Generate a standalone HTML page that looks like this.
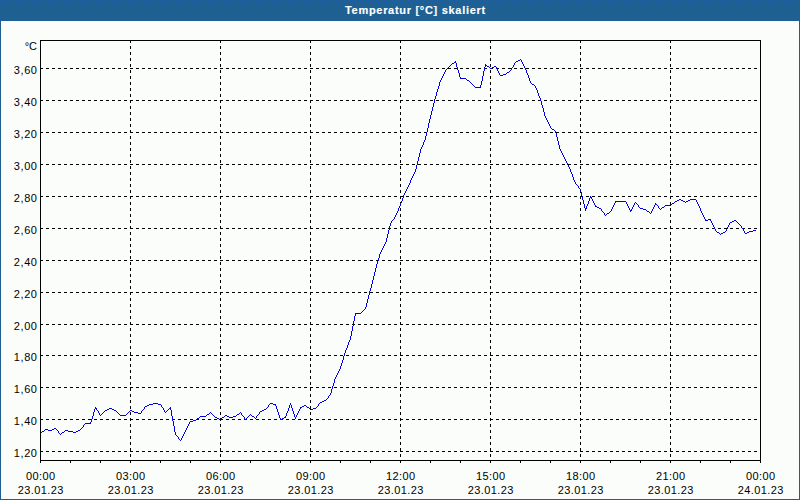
<!DOCTYPE html>
<html><head><meta charset="utf-8"><style>
html,body{margin:0;padding:0;}
body{width:800px;height:500px;position:relative;overflow:hidden;background:#1e6092;font-family:"Liberation Sans",sans-serif;}
#title{position:absolute;z-index:2;left:345px;top:0;height:21px;color:#fff;font-weight:bold;font-size:11px;line-height:21px;letter-spacing:0.7px;white-space:nowrap;-webkit-text-stroke:0.15px #fff;}
#panel{position:absolute;left:1px;top:21px;width:798px;height:478px;background:#fbfdfb;}
svg{position:absolute;left:0;top:0;}
.yl{position:absolute;left:0;width:37.6px;text-align:right;font-size:11px;line-height:14px;color:#000;letter-spacing:0.6px;}
.xl{position:absolute;width:80px;text-align:center;font-size:11px;line-height:14px;color:#000;letter-spacing:0.4px;text-indent:1.6px;}
#unit{position:absolute;left:0;width:37px;top:39px;text-align:right;font-size:11px;line-height:14px;color:#000;}
</style></head><body>
<div id="title">Temperatur [°C] skaliert</div>
<div id="panel"></div>
<svg width="800" height="500" viewBox="0 0 800 500">
<defs><pattern id="dith" x="0" y="0" width="8" height="20" patternUnits="userSpaceOnUse"><path fill="#225eb2" d="M0 0h1v1h-1zM4 1h1v1h-1zM2 2h1v1h-1zM7 2h1v1h-1zM3 4h1v1h-1zM0 5h1v1h-1zM5 5h1v1h-1zM3 7h1v1h-1zM7 8h1v1h-1zM1 9h1v1h-1zM5 9h1v1h-1zM0 11h1v1h-1zM4 11h1v1h-1zM2 13h1v1h-1zM6 13h1v1h-1zM1 15h1v1h-1zM5 15h1v1h-1zM0 17h1v1h-1zM4 17h1v1h-1zM2 19h1v1h-1zM6 19h1v1h-1z"/></pattern></defs>
<rect x="0" y="0" width="800" height="21" fill="url(#dith)" shape-rendering="crispEdges"/>
<g stroke="#000" stroke-width="1" stroke-dasharray="3 3" shape-rendering="crispEdges">
<line x1="40" y1="68.5" x2="760" y2="68.5"/>
<line x1="40" y1="100.5" x2="760" y2="100.5"/>
<line x1="40" y1="132.5" x2="760" y2="132.5"/>
<line x1="40" y1="164.5" x2="760" y2="164.5"/>
<line x1="40" y1="196.5" x2="760" y2="196.5"/>
<line x1="40" y1="228.5" x2="760" y2="228.5"/>
<line x1="40" y1="260.5" x2="760" y2="260.5"/>
<line x1="40" y1="292.5" x2="760" y2="292.5"/>
<line x1="40" y1="324.5" x2="760" y2="324.5"/>
<line x1="40" y1="355.5" x2="760" y2="355.5"/>
<line x1="40" y1="387.5" x2="760" y2="387.5"/>
<line x1="40" y1="419.5" x2="760" y2="419.5"/>
<line x1="40" y1="451.5" x2="760" y2="451.5"/>
<line x1="130.5" y1="40" x2="130.5" y2="460"/>
<line x1="220.5" y1="40" x2="220.5" y2="460"/>
<line x1="310.5" y1="40" x2="310.5" y2="460"/>
<line x1="400.5" y1="40" x2="400.5" y2="460"/>
<line x1="490.5" y1="40" x2="490.5" y2="460"/>
<line x1="580.5" y1="40" x2="580.5" y2="460"/>
<line x1="670.5" y1="40" x2="670.5" y2="460"/>
</g>
<path fill="#0000e8" shape-rendering="crispEdges" d="M520 59h1v1h-1zM518 60h2v1h-2zM521 60h1v1h-1zM455 61h1v1h-1zM516 61h2v1h-2zM521 61h1v1h-1zM454 62h2v1h-2zM515 62h1v1h-1zM522 62h1v1h-1zM452 63h2v1h-2zM456 63h1v1h-1zM514 63h1v1h-1zM522 63h1v1h-1zM451 64h1v1h-1zM456 64h1v1h-1zM485 64h1v1h-1zM514 64h1v1h-1zM523 64h1v1h-1zM450 65h1v1h-1zM456 65h1v1h-1zM485 65h2v1h-2zM513 65h1v1h-1zM523 65h1v1h-1zM449 66h1v1h-1zM456 66h1v1h-1zM485 66h1v1h-1zM487 66h2v1h-2zM494 66h2v1h-2zM513 66h1v1h-1zM524 66h1v1h-1zM448 67h1v1h-1zM457 67h1v1h-1zM484 67h1v1h-1zM489 67h1v1h-1zM492 67h2v1h-2zM496 67h1v1h-1zM512 67h1v1h-1zM524 67h1v1h-1zM447 68h1v1h-1zM457 68h1v1h-1zM484 68h1v1h-1zM490 68h2v1h-2zM496 68h1v1h-1zM511 68h1v1h-1zM525 68h1v1h-1zM446 69h1v1h-1zM457 69h1v1h-1zM484 69h1v1h-1zM497 69h1v1h-1zM511 69h1v1h-1zM525 69h1v1h-1zM445 70h1v1h-1zM458 70h1v1h-1zM484 70h1v1h-1zM497 70h1v1h-1zM510 70h1v1h-1zM526 70h1v1h-1zM445 71h1v1h-1zM458 71h1v1h-1zM483 71h1v1h-1zM498 71h1v1h-1zM509 71h1v1h-1zM526 71h1v1h-1zM444 72h1v1h-1zM458 72h1v1h-1zM483 72h1v1h-1zM498 72h1v1h-1zM507 72h2v1h-2zM526 72h1v1h-1zM444 73h1v1h-1zM459 73h1v1h-1zM483 73h1v1h-1zM499 73h1v1h-1zM506 73h1v1h-1zM527 73h1v1h-1zM443 74h1v1h-1zM459 74h1v1h-1zM483 74h1v1h-1zM499 74h1v1h-1zM503 74h3v1h-3zM527 74h1v1h-1zM443 75h1v1h-1zM459 75h1v1h-1zM483 75h1v1h-1zM500 75h3v1h-3zM528 75h1v1h-1zM442 76h1v1h-1zM459 76h1v1h-1zM482 76h1v1h-1zM528 76h1v1h-1zM442 77h1v1h-1zM460 77h1v1h-1zM482 77h1v1h-1zM528 77h1v1h-1zM441 78h1v1h-1zM460 78h6v1h-6zM482 78h1v1h-1zM529 78h1v1h-1zM441 79h1v1h-1zM466 79h1v1h-1zM482 79h1v1h-1zM529 79h1v1h-1zM440 80h1v1h-1zM467 80h2v1h-2zM482 80h1v1h-1zM529 80h1v1h-1zM440 81h1v1h-1zM469 81h1v1h-1zM481 81h1v1h-1zM530 81h1v1h-1zM439 82h1v1h-1zM470 82h1v1h-1zM481 82h1v1h-1zM530 82h1v1h-1zM439 83h1v1h-1zM471 83h1v1h-1zM481 83h1v1h-1zM531 83h1v1h-1zM439 84h1v1h-1zM472 84h1v1h-1zM481 84h1v1h-1zM532 84h2v1h-2zM439 85h1v1h-1zM473 85h1v1h-1zM480 85h1v1h-1zM534 85h1v1h-1zM438 86h1v1h-1zM474 86h1v1h-1zM480 86h1v1h-1zM535 86h1v1h-1zM438 87h1v1h-1zM475 87h6v1h-6zM535 87h1v1h-1zM438 88h1v1h-1zM536 88h1v1h-1zM437 89h1v1h-1zM536 89h1v1h-1zM437 90h1v1h-1zM537 90h1v1h-1zM437 91h1v1h-1zM537 91h1v1h-1zM436 92h1v1h-1zM537 92h1v1h-1zM436 93h1v1h-1zM538 93h1v1h-1zM436 94h1v1h-1zM538 94h1v1h-1zM436 95h1v1h-1zM538 95h1v1h-1zM435 96h1v1h-1zM539 96h1v1h-1zM435 97h1v1h-1zM539 97h1v1h-1zM435 98h1v1h-1zM540 98h1v1h-1zM434 99h1v1h-1zM540 99h1v1h-1zM434 100h1v1h-1zM540 100h1v1h-1zM434 101h1v1h-1zM541 101h1v1h-1zM434 102h1v1h-1zM541 102h1v1h-1zM433 103h1v1h-1zM541 103h1v1h-1zM433 104h1v1h-1zM541 104h1v1h-1zM433 105h1v1h-1zM542 105h1v1h-1zM433 106h1v1h-1zM542 106h1v1h-1zM432 107h1v1h-1zM542 107h1v1h-1zM432 108h1v1h-1zM543 108h1v1h-1zM432 109h1v1h-1zM543 109h1v1h-1zM432 110h1v1h-1zM543 110h1v1h-1zM431 111h1v1h-1zM543 111h1v1h-1zM431 112h1v1h-1zM544 112h1v1h-1zM431 113h1v1h-1zM544 113h1v1h-1zM431 114h1v1h-1zM544 114h1v1h-1zM430 115h1v1h-1zM544 115h1v1h-1zM430 116h1v1h-1zM545 116h1v1h-1zM430 117h1v1h-1zM545 117h1v1h-1zM430 118h1v1h-1zM546 118h1v1h-1zM429 119h1v1h-1zM546 119h1v1h-1zM429 120h1v1h-1zM547 120h1v1h-1zM429 121h1v1h-1zM547 121h1v1h-1zM429 122h1v1h-1zM548 122h1v1h-1zM428 123h1v1h-1zM548 123h1v1h-1zM428 124h1v1h-1zM549 124h1v1h-1zM428 125h1v1h-1zM549 125h1v1h-1zM428 126h1v1h-1zM550 126h1v1h-1zM428 127h1v1h-1zM550 127h1v1h-1zM427 128h1v1h-1zM551 128h1v1h-1zM427 129h1v1h-1zM552 129h2v1h-2zM427 130h1v1h-1zM554 130h1v1h-1zM427 131h1v1h-1zM555 131h1v1h-1zM426 132h1v1h-1zM555 132h1v1h-1zM426 133h1v1h-1zM556 133h1v1h-1zM426 134h1v1h-1zM556 134h1v1h-1zM426 135h1v1h-1zM556 135h1v1h-1zM425 136h1v1h-1zM556 136h1v1h-1zM425 137h1v1h-1zM557 137h1v1h-1zM425 138h1v1h-1zM557 138h1v1h-1zM425 139h1v1h-1zM557 139h1v1h-1zM424 140h1v1h-1zM557 140h1v1h-1zM424 141h1v1h-1zM558 141h1v1h-1zM423 142h1v1h-1zM558 142h1v1h-1zM423 143h1v1h-1zM558 143h1v1h-1zM423 144h1v1h-1zM558 144h1v1h-1zM422 145h1v1h-1zM559 145h1v1h-1zM422 146h1v1h-1zM559 146h1v1h-1zM421 147h1v1h-1zM559 147h1v1h-1zM421 148h1v1h-1zM559 148h1v1h-1zM420 149h1v1h-1zM560 149h1v1h-1zM420 150h1v1h-1zM560 150h1v1h-1zM420 151h1v1h-1zM561 151h1v1h-1zM420 152h1v1h-1zM561 152h1v1h-1zM419 153h1v1h-1zM562 153h1v1h-1zM419 154h1v1h-1zM562 154h1v1h-1zM419 155h1v1h-1zM563 155h1v1h-1zM419 156h1v1h-1zM563 156h1v1h-1zM418 157h1v1h-1zM564 157h1v1h-1zM418 158h1v1h-1zM564 158h1v1h-1zM418 159h1v1h-1zM565 159h1v1h-1zM418 160h1v1h-1zM565 160h1v1h-1zM417 161h1v1h-1zM566 161h1v1h-1zM417 162h1v1h-1zM566 162h1v1h-1zM417 163h1v1h-1zM567 163h1v1h-1zM417 164h1v1h-1zM567 164h1v1h-1zM416 165h1v1h-1zM568 165h1v1h-1zM416 166h1v1h-1zM568 166h1v1h-1zM416 167h1v1h-1zM569 167h1v1h-1zM416 168h1v1h-1zM569 168h1v1h-1zM415 169h1v1h-1zM570 169h1v1h-1zM415 170h1v1h-1zM570 170h1v1h-1zM415 171h1v1h-1zM570 171h1v1h-1zM414 172h1v1h-1zM571 172h1v1h-1zM414 173h1v1h-1zM571 173h1v1h-1zM413 174h1v1h-1zM572 174h1v1h-1zM413 175h1v1h-1zM572 175h1v1h-1zM412 176h1v1h-1zM572 176h1v1h-1zM412 177h1v1h-1zM573 177h1v1h-1zM411 178h1v1h-1zM573 178h1v1h-1zM411 179h1v1h-1zM573 179h1v1h-1zM410 180h1v1h-1zM574 180h1v1h-1zM410 181h1v1h-1zM574 181h1v1h-1zM410 182h1v1h-1zM575 182h1v1h-1zM409 183h1v1h-1zM575 183h1v1h-1zM409 184h1v1h-1zM576 184h1v1h-1zM408 185h1v1h-1zM577 185h1v1h-1zM408 186h1v1h-1zM578 186h1v1h-1zM407 187h1v1h-1zM578 187h1v1h-1zM407 188h1v1h-1zM579 188h1v1h-1zM406 189h1v1h-1zM580 189h1v1h-1zM406 190h1v1h-1zM580 190h1v1h-1zM405 191h1v1h-1zM580 191h1v1h-1zM405 192h1v1h-1zM581 192h1v1h-1zM404 193h1v1h-1zM581 193h1v1h-1zM404 194h1v1h-1zM581 194h1v1h-1zM403 195h1v1h-1zM581 195h1v1h-1zM403 196h1v1h-1zM582 196h1v1h-1zM590 196h1v1h-1zM403 197h1v1h-1zM582 197h1v1h-1zM590 197h2v1h-2zM402 198h1v1h-1zM582 198h1v1h-1zM589 198h1v1h-1zM591 198h1v1h-1zM402 199h1v1h-1zM582 199h1v1h-1zM589 199h1v1h-1zM592 199h1v1h-1zM679 199h2v1h-2zM690 199h6v1h-6zM402 200h1v1h-1zM583 200h1v1h-1zM589 200h1v1h-1zM592 200h1v1h-1zM677 200h2v1h-2zM681 200h2v1h-2zM688 200h2v1h-2zM696 200h1v1h-1zM401 201h1v1h-1zM583 201h1v1h-1zM588 201h1v1h-1zM593 201h1v1h-1zM615 201h11v1h-11zM675 201h2v1h-2zM683 201h2v1h-2zM686 201h2v1h-2zM696 201h1v1h-1zM401 202h1v1h-1zM583 202h1v1h-1zM588 202h1v1h-1zM593 202h1v1h-1zM615 202h1v1h-1zM626 202h1v1h-1zM635 202h1v1h-1zM674 202h1v1h-1zM685 202h1v1h-1zM697 202h1v1h-1zM400 203h1v1h-1zM583 203h1v1h-1zM588 203h1v1h-1zM594 203h1v1h-1zM614 203h1v1h-1zM626 203h1v1h-1zM634 203h1v1h-1zM636 203h1v1h-1zM655 203h1v1h-1zM672 203h2v1h-2zM697 203h1v1h-1zM400 204h1v1h-1zM584 204h1v1h-1zM587 204h1v1h-1zM594 204h1v1h-1zM614 204h1v1h-1zM627 204h1v1h-1zM634 204h1v1h-1zM637 204h1v1h-1zM655 204h2v1h-2zM671 204h1v1h-1zM698 204h1v1h-1zM400 205h1v1h-1zM584 205h1v1h-1zM587 205h1v1h-1zM595 205h1v1h-1zM613 205h1v1h-1zM627 205h1v1h-1zM633 205h1v1h-1zM638 205h1v1h-1zM654 205h1v1h-1zM657 205h1v1h-1zM665 205h6v1h-6zM698 205h1v1h-1zM399 206h1v1h-1zM584 206h1v1h-1zM586 206h1v1h-1zM595 206h2v1h-2zM613 206h1v1h-1zM628 206h1v1h-1zM633 206h1v1h-1zM638 206h1v1h-1zM654 206h1v1h-1zM658 206h1v1h-1zM664 206h1v1h-1zM699 206h1v1h-1zM399 207h1v1h-1zM584 207h1v1h-1zM586 207h1v1h-1zM597 207h2v1h-2zM612 207h1v1h-1zM628 207h1v1h-1zM632 207h1v1h-1zM639 207h1v1h-1zM653 207h1v1h-1zM658 207h1v1h-1zM662 207h2v1h-2zM699 207h1v1h-1zM398 208h1v1h-1zM585 208h2v1h-2zM599 208h2v1h-2zM612 208h1v1h-1zM629 208h1v1h-1zM632 208h1v1h-1zM640 208h3v1h-3zM653 208h1v1h-1zM659 208h1v1h-1zM661 208h1v1h-1zM700 208h1v1h-1zM398 209h1v1h-1zM585 209h1v1h-1zM601 209h1v1h-1zM611 209h1v1h-1zM629 209h1v1h-1zM631 209h1v1h-1zM643 209h3v1h-3zM652 209h1v1h-1zM660 209h1v1h-1zM700 209h1v1h-1zM398 210h1v1h-1zM585 210h1v1h-1zM601 210h1v1h-1zM611 210h1v1h-1zM630 210h2v1h-2zM646 210h1v1h-1zM652 210h1v1h-1zM700 210h1v1h-1zM397 211h1v1h-1zM602 211h1v1h-1zM610 211h1v1h-1zM630 211h1v1h-1zM647 211h2v1h-2zM651 211h1v1h-1zM701 211h1v1h-1zM397 212h1v1h-1zM603 212h1v1h-1zM609 212h1v1h-1zM649 212h1v1h-1zM651 212h1v1h-1zM701 212h1v1h-1zM396 213h1v1h-1zM604 213h1v1h-1zM607 213h2v1h-2zM650 213h1v1h-1zM702 213h1v1h-1zM396 214h1v1h-1zM604 214h1v1h-1zM606 214h1v1h-1zM702 214h1v1h-1zM395 215h1v1h-1zM605 215h1v1h-1zM703 215h1v1h-1zM395 216h1v1h-1zM703 216h1v1h-1zM394 217h1v1h-1zM704 217h1v1h-1zM394 218h1v1h-1zM704 218h1v1h-1zM393 219h1v1h-1zM705 219h1v1h-1zM708 219h3v1h-3zM392 220h1v1h-1zM705 220h3v1h-3zM710 220h1v1h-1zM734 220h2v1h-2zM391 221h1v1h-1zM711 221h1v1h-1zM732 221h2v1h-2zM736 221h1v1h-1zM391 222h1v1h-1zM711 222h1v1h-1zM730 222h2v1h-2zM737 222h1v1h-1zM390 223h1v1h-1zM712 223h1v1h-1zM729 223h1v1h-1zM738 223h1v1h-1zM390 224h1v1h-1zM712 224h1v1h-1zM729 224h1v1h-1zM739 224h1v1h-1zM390 225h1v1h-1zM713 225h1v1h-1zM728 225h1v1h-1zM740 225h1v1h-1zM389 226h1v1h-1zM713 226h1v1h-1zM728 226h1v1h-1zM741 226h1v1h-1zM389 227h1v1h-1zM714 227h1v1h-1zM727 227h1v1h-1zM741 227h1v1h-1zM389 228h1v1h-1zM714 228h1v1h-1zM727 228h1v1h-1zM742 228h1v1h-1zM389 229h1v1h-1zM715 229h1v1h-1zM726 229h1v1h-1zM743 229h1v1h-1zM388 230h1v1h-1zM715 230h1v1h-1zM726 230h1v1h-1zM743 230h1v1h-1zM753 230h3v1h-3zM388 231h1v1h-1zM716 231h1v1h-1zM725 231h1v1h-1zM744 231h1v1h-1zM749 231h4v1h-4zM388 232h1v1h-1zM717 232h2v1h-2zM723 232h2v1h-2zM744 232h1v1h-1zM747 232h2v1h-2zM388 233h1v1h-1zM719 233h1v1h-1zM721 233h2v1h-2zM745 233h2v1h-2zM387 234h1v1h-1zM720 234h1v1h-1zM387 235h1v1h-1zM387 236h1v1h-1zM387 237h1v1h-1zM386 238h1v1h-1zM386 239h1v1h-1zM386 240h1v1h-1zM386 241h1v1h-1zM385 242h1v1h-1zM385 243h1v1h-1zM384 244h1v1h-1zM384 245h1v1h-1zM383 246h1v1h-1zM383 247h1v1h-1zM382 248h1v1h-1zM382 249h1v1h-1zM381 250h1v1h-1zM381 251h1v1h-1zM380 252h1v1h-1zM380 253h1v1h-1zM379 254h1v1h-1zM379 255h1v1h-1zM379 256h1v1h-1zM379 257h1v1h-1zM378 258h1v1h-1zM378 259h1v1h-1zM378 260h1v1h-1zM377 261h1v1h-1zM377 262h1v1h-1zM377 263h1v1h-1zM376 264h1v1h-1zM376 265h1v1h-1zM376 266h1v1h-1zM376 267h1v1h-1zM375 268h1v1h-1zM375 269h1v1h-1zM375 270h1v1h-1zM375 271h1v1h-1zM374 272h1v1h-1zM374 273h1v1h-1zM374 274h1v1h-1zM374 275h1v1h-1zM373 276h1v1h-1zM373 277h1v1h-1zM373 278h1v1h-1zM373 279h1v1h-1zM372 280h1v1h-1zM372 281h1v1h-1zM372 282h1v1h-1zM372 283h1v1h-1zM371 284h1v1h-1zM371 285h1v1h-1zM371 286h1v1h-1zM371 287h1v1h-1zM370 288h1v1h-1zM370 289h1v1h-1zM370 290h1v1h-1zM369 291h1v1h-1zM369 292h1v1h-1zM369 293h1v1h-1zM369 294h1v1h-1zM368 295h1v1h-1zM368 296h1v1h-1zM368 297h1v1h-1zM368 298h1v1h-1zM367 299h1v1h-1zM367 300h1v1h-1zM367 301h1v1h-1zM367 302h1v1h-1zM366 303h1v1h-1zM366 304h1v1h-1zM366 305h1v1h-1zM366 306h1v1h-1zM365 307h1v1h-1zM365 308h1v1h-1zM364 309h1v1h-1zM363 310h1v1h-1zM362 311h1v1h-1zM361 312h1v1h-1zM355 313h6v1h-6zM355 314h1v1h-1zM355 315h1v1h-1zM354 316h1v1h-1zM354 317h1v1h-1zM354 318h1v1h-1zM354 319h1v1h-1zM354 320h1v1h-1zM353 321h1v1h-1zM353 322h1v1h-1zM353 323h1v1h-1zM353 324h1v1h-1zM353 325h1v1h-1zM352 326h1v1h-1zM352 327h1v1h-1zM352 328h1v1h-1zM352 329h1v1h-1zM352 330h1v1h-1zM351 331h1v1h-1zM351 332h1v1h-1zM351 333h1v1h-1zM351 334h1v1h-1zM351 335h1v1h-1zM350 336h1v1h-1zM350 337h1v1h-1zM350 338h1v1h-1zM350 339h1v1h-1zM349 340h1v1h-1zM349 341h1v1h-1zM348 342h1v1h-1zM348 343h1v1h-1zM348 344h1v1h-1zM347 345h1v1h-1zM347 346h1v1h-1zM347 347h1v1h-1zM346 348h1v1h-1zM346 349h1v1h-1zM345 350h1v1h-1zM345 351h1v1h-1zM345 352h1v1h-1zM344 353h1v1h-1zM344 354h1v1h-1zM344 355h1v1h-1zM343 356h1v1h-1zM343 357h1v1h-1zM343 358h1v1h-1zM343 359h1v1h-1zM342 360h1v1h-1zM342 361h1v1h-1zM342 362h1v1h-1zM341 363h1v1h-1zM341 364h1v1h-1zM341 365h1v1h-1zM340 366h1v1h-1zM340 367h1v1h-1zM340 368h1v1h-1zM339 369h1v1h-1zM339 370h1v1h-1zM338 371h1v1h-1zM338 372h1v1h-1zM337 373h1v1h-1zM337 374h1v1h-1zM336 375h1v1h-1zM336 376h1v1h-1zM335 377h1v1h-1zM335 378h1v1h-1zM334 379h1v1h-1zM334 380h1v1h-1zM334 381h1v1h-1zM334 382h1v1h-1zM333 383h1v1h-1zM333 384h1v1h-1zM333 385h1v1h-1zM332 386h1v1h-1zM332 387h1v1h-1zM332 388h1v1h-1zM331 389h1v1h-1zM331 390h1v1h-1zM331 391h1v1h-1zM331 392h1v1h-1zM330 393h1v1h-1zM330 394h1v1h-1zM329 395h1v1h-1zM328 396h1v1h-1zM328 397h1v1h-1zM327 398h1v1h-1zM326 399h1v1h-1zM324 400h2v1h-2zM322 401h2v1h-2zM320 402h2v1h-2zM153 403h5v1h-5zM270 403h3v1h-3zM290 403h1v1h-1zM319 403h1v1h-1zM149 404h4v1h-4zM158 404h3v1h-3zM269 404h1v1h-1zM273 404h3v1h-3zM290 404h1v1h-1zM318 404h1v1h-1zM147 405h2v1h-2zM161 405h1v1h-1zM268 405h1v1h-1zM275 405h1v1h-1zM289 405h1v1h-1zM291 405h1v1h-1zM304 405h2v1h-2zM318 405h1v1h-1zM145 406h2v1h-2zM161 406h1v1h-1zM268 406h1v1h-1zM276 406h1v1h-1zM289 406h1v1h-1zM291 406h1v1h-1zM302 406h2v1h-2zM306 406h1v1h-1zM317 406h1v1h-1zM95 407h1v1h-1zM144 407h1v1h-1zM162 407h1v1h-1zM170 407h1v1h-1zM267 407h1v1h-1zM276 407h1v1h-1zM289 407h1v1h-1zM291 407h1v1h-1zM300 407h2v1h-2zM307 407h2v1h-2zM316 407h1v1h-1zM95 408h2v1h-2zM109 408h3v1h-3zM144 408h1v1h-1zM163 408h1v1h-1zM169 408h2v1h-2zM266 408h1v1h-1zM276 408h1v1h-1zM288 408h1v1h-1zM292 408h1v1h-1zM300 408h1v1h-1zM309 408h1v1h-1zM313 408h3v1h-3zM94 409h1v1h-1zM96 409h1v1h-1zM107 409h2v1h-2zM112 409h2v1h-2zM143 409h1v1h-1zM163 409h1v1h-1zM168 409h1v1h-1zM170 409h1v1h-1zM264 409h2v1h-2zM277 409h1v1h-1zM288 409h1v1h-1zM292 409h1v1h-1zM299 409h1v1h-1zM310 409h3v1h-3zM94 410h1v1h-1zM97 410h1v1h-1zM105 410h2v1h-2zM114 410h2v1h-2zM130 410h2v1h-2zM142 410h1v1h-1zM164 410h1v1h-1zM167 410h1v1h-1zM171 410h1v1h-1zM262 410h2v1h-2zM277 410h1v1h-1zM288 410h1v1h-1zM292 410h1v1h-1zM299 410h1v1h-1zM94 411h1v1h-1zM98 411h1v1h-1zM104 411h1v1h-1zM116 411h1v1h-1zM129 411h1v1h-1zM132 411h2v1h-2zM141 411h1v1h-1zM164 411h1v1h-1zM166 411h1v1h-1zM171 411h1v1h-1zM260 411h2v1h-2zM277 411h1v1h-1zM287 411h1v1h-1zM293 411h1v1h-1zM298 411h1v1h-1zM93 412h1v1h-1zM98 412h1v1h-1zM103 412h1v1h-1zM117 412h1v1h-1zM128 412h1v1h-1zM134 412h4v1h-4zM141 412h1v1h-1zM165 412h1v1h-1zM171 412h1v1h-1zM210 412h1v1h-1zM240 412h1v1h-1zM259 412h1v1h-1zM278 412h1v1h-1zM287 412h1v1h-1zM293 412h1v1h-1zM298 412h1v1h-1zM93 413h1v1h-1zM99 413h1v1h-1zM102 413h1v1h-1zM118 413h1v1h-1zM127 413h1v1h-1zM138 413h3v1h-3zM171 413h1v1h-1zM209 413h1v1h-1zM211 413h1v1h-1zM239 413h1v1h-1zM241 413h1v1h-1zM259 413h1v1h-1zM278 413h1v1h-1zM286 413h1v1h-1zM293 413h1v1h-1zM297 413h1v1h-1zM93 414h1v1h-1zM99 414h1v1h-1zM101 414h1v1h-1zM119 414h1v1h-1zM126 414h1v1h-1zM171 414h1v1h-1zM207 414h2v1h-2zM212 414h1v1h-1zM237 414h2v1h-2zM241 414h1v1h-1zM250 414h1v1h-1zM258 414h1v1h-1zM278 414h1v1h-1zM286 414h1v1h-1zM294 414h1v1h-1zM297 414h1v1h-1zM93 415h1v1h-1zM100 415h1v1h-1zM120 415h6v1h-6zM171 415h1v1h-1zM206 415h1v1h-1zM213 415h1v1h-1zM225 415h2v1h-2zM236 415h1v1h-1zM242 415h1v1h-1zM249 415h1v1h-1zM251 415h1v1h-1zM257 415h1v1h-1zM279 415h1v1h-1zM286 415h1v1h-1zM294 415h1v1h-1zM296 415h1v1h-1zM92 416h1v1h-1zM172 416h1v1h-1zM200 416h6v1h-6zM214 416h1v1h-1zM224 416h1v1h-1zM227 416h2v1h-2zM233 416h3v1h-3zM243 416h1v1h-1zM248 416h1v1h-1zM252 416h2v1h-2zM256 416h1v1h-1zM279 416h1v1h-1zM285 416h1v1h-1zM294 416h1v1h-1zM296 416h1v1h-1zM92 417h1v1h-1zM172 417h1v1h-1zM199 417h1v1h-1zM215 417h2v1h-2zM222 417h2v1h-2zM229 417h4v1h-4zM244 417h1v1h-1zM247 417h1v1h-1zM254 417h1v1h-1zM256 417h1v1h-1zM279 417h1v1h-1zM284 417h2v1h-2zM295 417h1v1h-1zM92 418h1v1h-1zM172 418h1v1h-1zM197 418h2v1h-2zM217 418h2v1h-2zM221 418h1v1h-1zM244 418h1v1h-1zM246 418h1v1h-1zM255 418h1v1h-1zM280 418h1v1h-1zM282 418h2v1h-2zM295 418h1v1h-1zM91 419h1v1h-1zM172 419h1v1h-1zM196 419h1v1h-1zM219 419h2v1h-2zM245 419h1v1h-1zM280 419h2v1h-2zM91 420h1v1h-1zM172 420h1v1h-1zM193 420h3v1h-3zM91 421h1v1h-1zM173 421h1v1h-1zM190 421h3v1h-3zM90 422h1v1h-1zM173 422h1v1h-1zM189 422h1v1h-1zM85 423h6v1h-6zM173 423h1v1h-1zM189 423h1v1h-1zM84 424h1v1h-1zM173 424h1v1h-1zM188 424h1v1h-1zM83 425h1v1h-1zM173 425h1v1h-1zM188 425h1v1h-1zM83 426h1v1h-1zM174 426h1v1h-1zM187 426h1v1h-1zM82 427h1v1h-1zM174 427h1v1h-1zM187 427h1v1h-1zM54 428h2v1h-2zM81 428h1v1h-1zM174 428h1v1h-1zM186 428h1v1h-1zM45 429h3v1h-3zM52 429h2v1h-2zM56 429h1v1h-1zM80 429h1v1h-1zM174 429h1v1h-1zM186 429h1v1h-1zM44 430h1v1h-1zM48 430h4v1h-4zM57 430h1v1h-1zM65 430h3v1h-3zM78 430h2v1h-2zM174 430h1v1h-1zM185 430h1v1h-1zM42 431h2v1h-2zM58 431h1v1h-1zM64 431h1v1h-1zM68 431h5v1h-5zM76 431h2v1h-2zM174 431h1v1h-1zM185 431h1v1h-1zM41 432h1v1h-1zM58 432h1v1h-1zM62 432h2v1h-2zM73 432h3v1h-3zM175 432h1v1h-1zM184 432h1v1h-1zM40 433h1v1h-1zM59 433h1v1h-1zM61 433h1v1h-1zM175 433h1v1h-1zM184 433h1v1h-1zM60 434h1v1h-1zM175 434h1v1h-1zM183 434h1v1h-1zM176 435h1v1h-1zM183 435h1v1h-1zM177 436h1v1h-1zM182 436h1v1h-1zM178 437h1v1h-1zM182 437h1v1h-1zM178 438h1v1h-1zM181 438h1v1h-1zM179 439h1v1h-1zM181 439h1v1h-1zM180 440h1v1h-1z"/>
<g stroke="#000" stroke-width="1" shape-rendering="crispEdges">
<rect x="40.5" y="40.5" width="720" height="420" fill="none"/>
<line x1="40.5" y1="460" x2="40.5" y2="463"/>
<line x1="70.5" y1="460" x2="70.5" y2="463"/>
<line x1="100.5" y1="460" x2="100.5" y2="463"/>
<line x1="130.5" y1="460" x2="130.5" y2="463"/>
<line x1="160.5" y1="460" x2="160.5" y2="463"/>
<line x1="190.5" y1="460" x2="190.5" y2="463"/>
<line x1="220.5" y1="460" x2="220.5" y2="463"/>
<line x1="250.5" y1="460" x2="250.5" y2="463"/>
<line x1="280.5" y1="460" x2="280.5" y2="463"/>
<line x1="310.5" y1="460" x2="310.5" y2="463"/>
<line x1="340.5" y1="460" x2="340.5" y2="463"/>
<line x1="370.5" y1="460" x2="370.5" y2="463"/>
<line x1="400.5" y1="460" x2="400.5" y2="463"/>
<line x1="430.5" y1="460" x2="430.5" y2="463"/>
<line x1="460.5" y1="460" x2="460.5" y2="463"/>
<line x1="490.5" y1="460" x2="490.5" y2="463"/>
<line x1="520.5" y1="460" x2="520.5" y2="463"/>
<line x1="550.5" y1="460" x2="550.5" y2="463"/>
<line x1="580.5" y1="460" x2="580.5" y2="463"/>
<line x1="610.5" y1="460" x2="610.5" y2="463"/>
<line x1="640.5" y1="460" x2="640.5" y2="463"/>
<line x1="670.5" y1="460" x2="670.5" y2="463"/>
<line x1="700.5" y1="460" x2="700.5" y2="463"/>
<line x1="730.5" y1="460" x2="730.5" y2="463"/>
<line x1="760.5" y1="460" x2="760.5" y2="463"/>
</g>
</svg>
<div id="unit">°C</div>
<div class="yl" style="top:63px">3,60</div>
<div class="yl" style="top:95px">3,40</div>
<div class="yl" style="top:127px">3,20</div>
<div class="yl" style="top:159px">3,00</div>
<div class="yl" style="top:191px">2,80</div>
<div class="yl" style="top:223px">2,60</div>
<div class="yl" style="top:255px">2,40</div>
<div class="yl" style="top:287px">2,20</div>
<div class="yl" style="top:319px">2,00</div>
<div class="yl" style="top:350px">1,80</div>
<div class="yl" style="top:382px">1,60</div>
<div class="yl" style="top:414px">1,40</div>
<div class="yl" style="top:446px">1,20</div>
<div class="xl" style="left:0px;top:469px">00:00</div>
<div class="xl" style="left:0px;top:483px">23.01.23</div>
<div class="xl" style="left:90px;top:469px">03:00</div>
<div class="xl" style="left:90px;top:483px">23.01.23</div>
<div class="xl" style="left:180px;top:469px">06:00</div>
<div class="xl" style="left:180px;top:483px">23.01.23</div>
<div class="xl" style="left:270px;top:469px">09:00</div>
<div class="xl" style="left:270px;top:483px">23.01.23</div>
<div class="xl" style="left:360px;top:469px">12:00</div>
<div class="xl" style="left:360px;top:483px">23.01.23</div>
<div class="xl" style="left:450px;top:469px">15:00</div>
<div class="xl" style="left:450px;top:483px">23.01.23</div>
<div class="xl" style="left:540px;top:469px">18:00</div>
<div class="xl" style="left:540px;top:483px">23.01.23</div>
<div class="xl" style="left:630px;top:469px">21:00</div>
<div class="xl" style="left:630px;top:483px">23.01.23</div>
<div class="xl" style="left:720px;top:469px">00:00</div>
<div class="xl" style="left:720px;top:483px">24.01.23</div>
</body></html>
